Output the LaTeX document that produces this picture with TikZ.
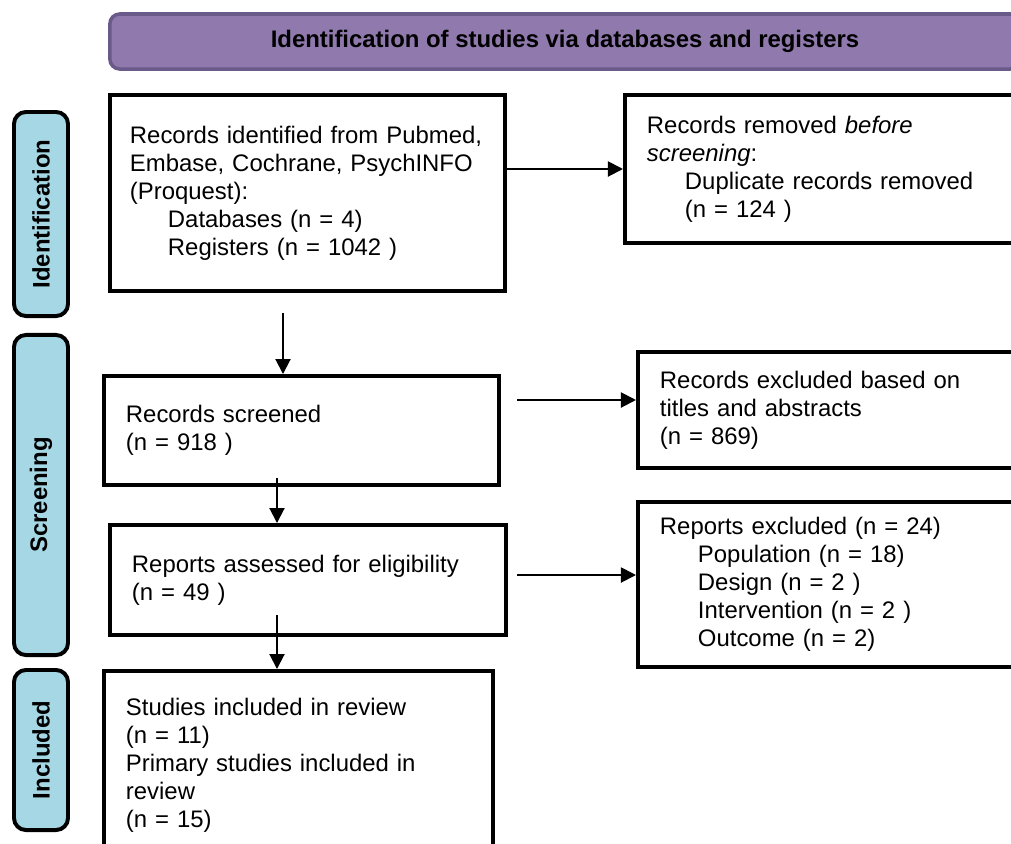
\documentclass[tikz,border=0pt]{standalone}
\usepackage{fontspec}
\setmainfont{Liberation Sans}
\usetikzlibrary{arrows.meta, positioning}
\definecolor{bannerfill}{RGB}{144,121,173}
\definecolor{bannerdraw}{RGB}{106,90,138}
\definecolor{phasefill}{RGB}{166,215,228}
\newcommand{\ind}{\hspace*{0.95cm}}

\begin{document}
\begin{tikzpicture}[
  x=0.025cm, y=-0.025cm,
  every node/.style={font=\fontsize{17}{19.9}\selectfont},
  box/.style={rectangle, draw, line width=2.8pt, align=left, inner xsep=0.55cm, inner ysep=0pt},
  phase/.style={rectangle, rounded corners=8.5pt, draw, line width=2.8pt, fill=phasefill, rotate=90,
    minimum height=1.35cm, font=\fontsize{17}{19}\selectfont\bfseries},
  banner/.style={rectangle, rounded corners=7pt, draw=bannerdraw, line width=2.5pt, fill=bannerfill,
    minimum width=22.75cm, minimum height=1.375cm, font=\fontsize{17}{19}\selectfont\bfseries},
  arr/.style={-{Triangle[length=0.375cm, width=0.375cm]}, line width=1.4pt},
]
\clip (0,0) rectangle (1011,843);

%% Header
\node[banner] (title) at (565,41.5) {Identification of studies via databases and registers};

%% Phases
\node[phase, minimum width=5.1cm] (idph)  at (41,214) {Identification};
\node[phase, minimum width=8cm]   (scrph) at (41,495) {Screening};
\node[phase, minimum width=4cm]   (incph) at (41,750) {Included};

%% Main column
\node[box, inner xsep=0.5cm, text width=8.875cm, minimum height=4.9cm] (ident) at (307.5,193)
  {Records identified from Pubmed,\\Embase, Cochrane, PsychINFO\\(Proquest):\\
   \ind Databases (n = 4)\\\ind Registers (n = 1042 )};
\node[box, text width=8.775cm, minimum height=2.725cm] (screened) at (301.5,430.5)
  {Records screened\\(n = 918 )};
\node[box, text width=8.8cm, minimum height=2.75cm] (assessed) at (308,580)
  {Reports assessed for eligibility\\(n = 49 )};
\node[box, text width=8.625cm, minimum height=4.725cm] (studies) at (298.5,765.5)
  {Studies included in review\\(n = 11)\\Primary studies included in\\review\\(n = 15)};

%% Side column
\node[box, text width=9.225cm, minimum height=3.7cm] (removed) at (831.5,169)
  {Records removed \textit{before}\\\textit{screening}:\\\ind Duplicate records removed\\\ind (n = 124 )};
\node[box, text width=8.9cm, minimum height=2.9cm] (excluded) at (838,410)
  {Records excluded based on\\titles and abstracts\\(n = 869)};
\node[box, text width=8.9cm, minimum height=4.125cm] (repexcl) at (838,584.5)
  {Reports excluded (n = 24)\\\ind Population (n = 18)\\\ind Design (n = 2 )\\
   \ind Intervention (n = 2 )\\\ind Outcome (n = 2)};

%% Connectors
\coordinate (a1) at (283,313);
\coordinate (a2) at (277,478);
\coordinate (a3) at (277,615);
\coordinate (a4) at (517,400);
\coordinate (a5) at (517,575);

\draw[arr] (ident.east |- removed.west) -- (removed.west);
\draw[arr] (a1) -- (a1 |- screened.north);
\draw[arr] (a2) -- (a2 |- assessed.north);
\draw[arr] (a3) -- (a3 |- studies.north);
\draw[arr] (a4) -- (a4 -| excluded.west);
\draw[arr] (a5) -- (a5 -| repexcl.west);

\end{tikzpicture}
\end{document}
